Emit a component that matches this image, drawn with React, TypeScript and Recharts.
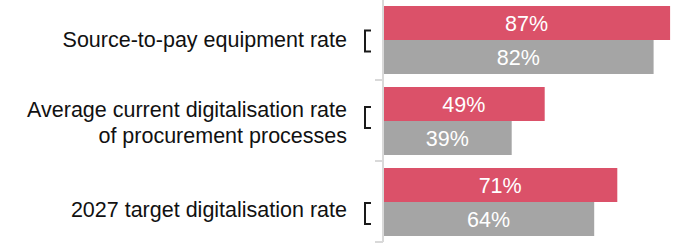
import React from "react";
import { BarChart, Bar, XAxis, YAxis, LabelList } from "recharts";

// ---- data ----
const categories = [
  "Source-to-pay equipment rate",
  "Average current digitalisation rate|of procurement processes",
  "2027 target digitalisation rate",
];
const seriesRed = [87, 49, 71];
const seriesGrey = [82, 39, 64];
const xDomainMax = 90;

// ---- style ----
const W = 684;
const H = 244;
const MARGIN = { top: -1, right: 4, bottom: 2, left: 0 };
const AXIS_W = 383;
const RED = "#DB5169";
const GREY = "#A5A5A5";
const AXIS_GREY = "#D9D9D9";
const FONT = "'Liberation Sans', Arial, Helvetica, sans-serif";
const FS = 21.5;
const LINE_H = 26;
const labelShift = [0, 2, 8];
const bracketShift = [1.5, -3, 12];

const data = categories.map((name, i) => ({
  name,
  red: seriesRed[i],
  grey: seriesGrey[i],
}));

const BAND = (H - MARGIN.top - MARGIN.bottom) / categories.length;

const CatTick = (props: any) => {
  const { x, y, payload } = props;
  const value: string = payload.value;
  let idx = categories.indexOf(value);
  if (idx < 0) idx = payload.index ?? 0;
  const lines = value.split("|");
  const base = y + FS * 0.355 + labelShift[idx] - ((lines.length - 1) * LINE_H) / 2;
  const bc = y + bracketShift[idx];
  const bx = x - 18;
  const bh = 10.5;
  return (
    <g>
      <text x={x - 36} y={base} textAnchor="end" fill="#111" fontSize={FS} fontFamily={FONT}>
        {lines.map((ln, i) => (
          <tspan key={i} x={x - 36} y={base + i * LINE_H}>
            {ln}
          </tspan>
        ))}
      </text>
      <path
        d={`M ${bx + 6} ${bc - bh} L ${bx} ${bc - bh} L ${bx} ${bc + bh} L ${bx + 6} ${bc + bh}`}
        fill="none"
        stroke="#1a1a1a"
        strokeWidth={2}
      />
      <line
        x1={x - 8}
        x2={x}
        y1={y + BAND / 2}
        y2={y + BAND / 2}
        stroke={AXIS_GREY}
        strokeWidth={2}
      />
    </g>
  );
};

const pct = (v: any) => `${v}%`;

export default function App() {
  return (
    <div style={{ position: "absolute", left: 0, top: 0, width: W, height: H, background: "#fff" }}>
      <BarChart
        width={W}
        height={H}
        data={data}
        layout="vertical"
        margin={MARGIN}
        barGap={0}
        barSize={34}
      >
        <XAxis type="number" domain={[0, xDomainMax]} hide />
        <YAxis
          type="category"
          dataKey="name"
          width={AXIS_W}
          axisLine={{ stroke: AXIS_GREY, strokeWidth: 2 }}
          tickLine={false}
          tickSize={0}
          tickMargin={0}
          interval={0}
          tick={<CatTick />}
        />
        <Bar dataKey="red" fill={RED} isAnimationActive={false}>
          <LabelList
            dataKey="red"
            position="center"
            formatter={pct}
            fill="#fff"
            style={{ fontSize: FS, fontFamily: FONT }}
          />
        </Bar>
        <Bar dataKey="grey" fill={GREY} isAnimationActive={false}>
          <LabelList
            dataKey="grey"
            position="center"
            formatter={pct}
            fill="#fff"
            style={{ fontSize: FS, fontFamily: FONT }}
          />
        </Bar>
      </BarChart>
    </div>
  );
}
